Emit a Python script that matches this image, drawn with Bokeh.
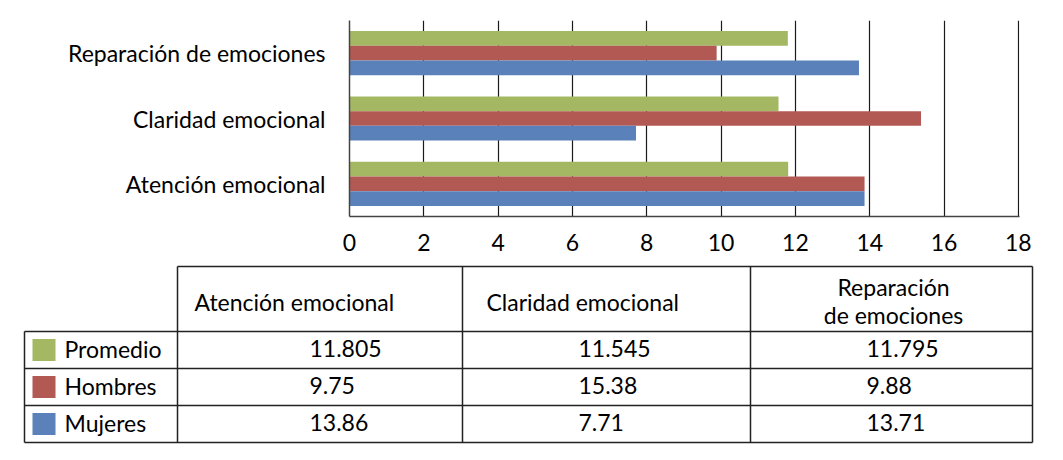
from bokeh.plotting import figure
from bokeh.models import FactorRange, Range1d, ColumnDataSource, FixedTicker
from bokeh.transform import dodge
from bokeh.core.properties import value
from bokeh.embed import file_html
from bokeh.resources import INLINE

# ---------------- data ----------------
categories = ["Atención emocional", "Claridad emocional", "Reparación de emociones"]
series = ["Promedio", "Hombres", "Mujeres"]
colors = ["#a4b763", "#b35953", "#5b81ba"]
# bar lengths as drawn in the chart
promedio_bar = [11.805, 11.545, 11.795]
hombres_bar = [13.86, 15.38, 9.88]
mujeres_bar = [13.86, 7.71, 13.71]
# values printed in the data table
promedio_tab = ["11.805", "11.545", "11.795"]
hombres_tab = ["9.75", "15.38", "9.88"]
mujeres_tab = ["13.86", "7.71", "13.71"]
header_labels = [["Atención emocional"], ["Claridad emocional"], ["Reparación", "de emociones"]]
x_ticks = [0, 2, 4, 6, 8, 10, 12, 14, 16, 18]

FONT = "Lato"
FS = "23px"
W = 1055

# ---------------- chart ----------------
p = figure(width=W, height=258, y_range=FactorRange(*categories), x_range=Range1d(0, 18.03),
           output_backend="svg", toolbar_location=None,
           min_border_left=349, min_border_right=W - 1019, min_border_top=20, min_border_bottom=42)
p.outline_line_color = None
src = ColumnDataSource(dict(cat=categories, p=promedio_bar, h=hombres_bar, m=mujeres_bar))
bh = 0.225
for key, off, col in [("p", bh, colors[0]), ("h", 0.0, colors[1]), ("m", -bh, colors[2])]:
    p.hbar(y=dodge("cat", off, range=p.y_range), right=key, left=0, height=bh,
           source=src, fill_color=col, line_color=None)

p.xaxis.ticker = FixedTicker(ticks=x_ticks)
p.xgrid.ticker = FixedTicker(ticks=x_ticks)
p.xgrid.grid_line_color = "#1a1a1a"
p.xgrid.grid_line_width = 1.2
p.ygrid.grid_line_color = None
for ax in (p.xaxis, p.yaxis):
    ax.axis_line_color = "#444444"
    ax.axis_line_width = 1.5
    ax.major_tick_line_color = None
    ax.minor_tick_line_color = None
    ax.major_tick_out = 0
    ax.major_tick_in = 0
    ax.major_label_text_font = FONT
    ax.major_label_text_font_size = FS
    ax.major_label_text_color = "#000000"
p.xaxis.major_label_standoff = 17
p.yaxis.major_label_standoff = 24

# ---------------- table ----------------
TH = 194
t = figure(width=W, height=TH, x_range=Range1d(0, W), y_range=Range1d(TH, 0),
           output_backend="svg", toolbar_location=None, x_axis_type=None, y_axis_type=None,
           min_border=0)
t.outline_line_color = None
t.xgrid.grid_line_color = None
t.ygrid.grid_line_color = None

col_edges = [24, 177, 462, 750, 1032]
row_edges = [8, 73, 110, 147, 184]
x0s, y0s, x1s, y1s = [], [], [], []
x0s.append(col_edges[1]); y0s.append(row_edges[0]); x1s.append(col_edges[-1]); y1s.append(row_edges[0])
for r in row_edges[1:]:
    x0s.append(col_edges[0]); y0s.append(r); x1s.append(col_edges[-1]); y1s.append(r)
x0s.append(col_edges[0]); y0s.append(row_edges[1]); x1s.append(col_edges[0]); y1s.append(row_edges[-1])
for c in col_edges[1:]:
    x0s.append(c); y0s.append(row_edges[0]); x1s.append(c); y1s.append(row_edges[-1])
t.segment(x0=x0s, y0=y0s, x1=x1s, y1=y1s, line_color="#222222", line_width=1.5)

hx, hy, ht, ha = [], [], [], []
hx += [col_edges[1] + 17]; hy += [43]; ht += header_labels[0]; ha += ["left"]
hx += [col_edges[2] + 24]; hy += [43]; ht += header_labels[1]; ha += ["left"]
cx3 = (col_edges[3] + col_edges[4]) / 2 + 2
hx += [cx3, cx3]; hy += [28, 56]; ht += header_labels[2]; ha += ["center", "center"]
t.text(x=hx, y=hy, text=ht, text_align=ha, text_baseline="middle",
       text_font=value(FONT), text_font_size=FS, text_color="#000000")

rows = [promedio_tab, hombres_tab, mujeres_tab]
val_left = [col_edges[1] + 132, col_edges[2] + 116, col_edges[3] + 116]
for i, (name, colr, vals) in enumerate(zip(series, colors, rows)):
    yc = (row_edges[i + 1] + row_edges[i + 2]) / 2
    t.rect(x=[col_edges[0] + 19.5], y=[yc], width=23, height=22, fill_color=colr, line_color=None)
    t.text(x=[col_edges[0] + 40], y=[yc - 1.5], text=[name], text_align="left", text_baseline="middle",
           text_font=value(FONT), text_font_size=FS, text_color="#000000")
    t.text(x=val_left, y=[yc - 1.5] * 3, text=vals, text_align="left", text_baseline="middle",
           text_font=value(FONT), text_font_size=FS, text_color="#000000")

open("out.html", "w").write(file_html([p, t], INLINE))
